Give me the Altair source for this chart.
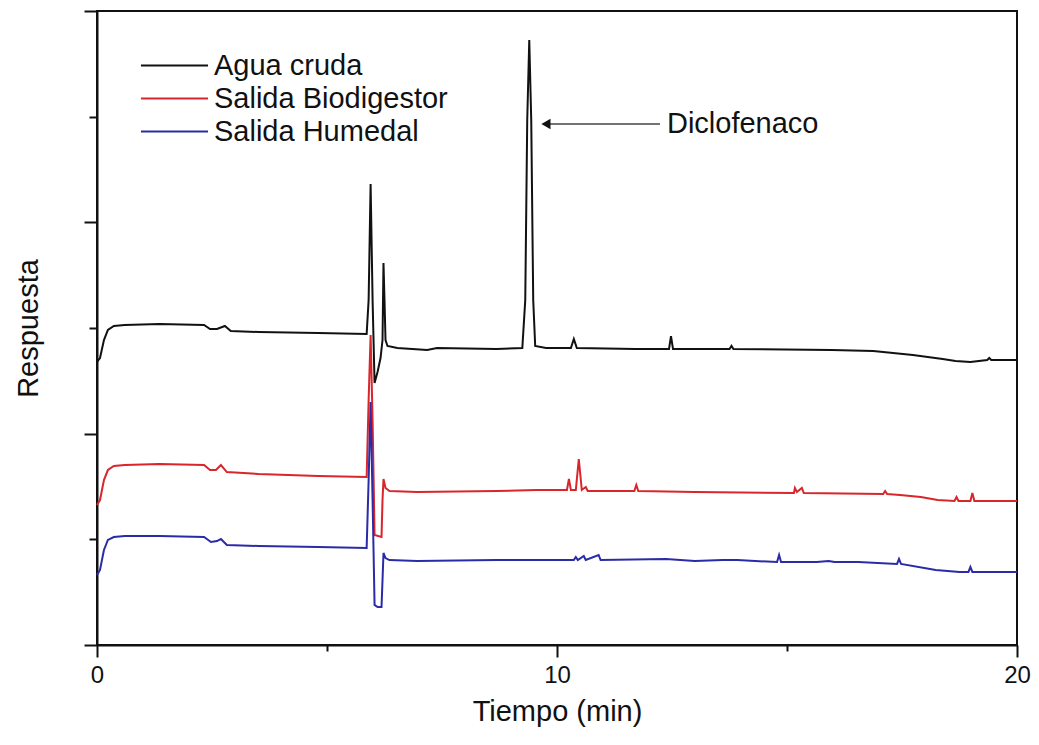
import altair as alt
import pandas as pd

series_names = ["Agua cruda", "Salida Biodigestor", "Salida Humedal"]
series_colors = ["#111111", "#d8262b", "#2b2ba8"]

t_agua = [0, 0.065, 0.151, 0.237, 0.366, 0.603, 1.358, 2.328, 2.457, 2.608, 2.780, 2.909, 3.513, 4.806,
          5.862, 5.905, 5.948, 5.991, 6.034, 6.099, 6.164, 6.207, 6.228, 6.250, 6.272, 6.315, 6.530,
          7.177, 7.392, 8.685, 9.246, 9.310, 9.353, 9.397, 9.440, 9.483, 9.526, 9.763, 10.302, 10.366,
          10.431, 11.703, 12.435, 12.478, 12.522, 13.750, 13.793, 13.836, 15.970, 16.875, 17.737,
          18.384, 18.664, 18.987, 19.353, 19.397, 19.440, 20.0]
y_agua = [26.78, 27.16, 28.86, 29.81, 30.19, 30.28, 30.38, 30.28, 29.90, 29.90, 30.19, 29.72, 29.62, 29.53,
          29.43, 32.65, 43.63, 32.65, 24.79, 25.84, 27.16, 28.86, 36.15, 32.65, 28.86, 28.30, 28.11,
          27.92, 28.11, 28.01, 28.11, 32.65, 49.68, 57.25, 49.68, 32.65, 28.30, 28.11, 28.11, 28.96,
          28.11, 28.01, 28.01, 29.24, 28.01, 28.01, 28.30, 28.01, 27.92, 27.82, 27.44,
          27.06, 26.88, 26.78, 26.97, 27.16, 26.97, 26.97]

t_bio = [0, 0.065, 0.151, 0.237, 0.366, 0.603, 1.358, 2.328, 2.457, 2.586, 2.694, 2.823, 3.513, 4.806,
         5.862, 5.905, 5.948, 5.991, 6.034, 6.185, 6.207, 6.228, 6.272, 6.358, 6.961, 8.685, 9.547,
         10.216, 10.259, 10.302, 10.409, 10.474, 10.539, 10.625, 10.668, 11.681, 11.724, 11.767,
         12.996, 15.151, 15.172, 15.216, 15.323, 15.366, 17.09, 17.134, 17.177, 17.457, 17.909,
         18.276, 18.642, 18.685, 18.728, 18.987, 19.03, 19.073, 20.0]
y_bio = [13.25, 13.72, 15.61, 16.56, 16.94, 17.03, 17.13, 17.03, 16.56, 16.56, 17.03, 16.37, 16.18, 15.99,
         15.90, 23.19, 29.34, 21.29, 10.41, 10.22, 13.72, 15.71, 14.86, 14.57, 14.48, 14.57, 14.67,
         14.67, 15.71, 14.67, 14.67, 17.60, 14.67, 14.95, 14.57, 14.57, 15.14, 14.57,
         14.48, 14.38, 14.86, 14.48, 14.86, 14.38, 14.29, 14.57, 14.29, 14.19, 14.01,
         13.72, 13.63, 14.01, 13.63, 13.63, 14.38, 13.63, 13.63]

t_hum = [0, 0.065, 0.151, 0.237, 0.366, 0.603, 1.358, 2.328, 2.478, 2.608, 2.694, 2.823, 3.513, 4.806,
         5.862, 5.905, 5.948, 5.991, 6.034, 6.099, 6.185, 6.207, 6.228, 6.272, 6.358, 6.961, 8.685,
         9.763, 10.366, 10.409, 10.453, 10.582, 10.625, 10.905, 10.948, 12.371, 12.996, 13.599,
         13.922, 14.784, 14.828, 14.871, 15.647, 15.905, 16.034, 16.552, 17.392, 17.435, 17.478,
         18.233, 18.75, 18.944, 18.987, 19.03, 20.0]
y_hum = [6.62, 7.10, 8.99, 9.94, 10.22, 10.32, 10.32, 10.22, 9.75, 9.84, 10.03, 9.46, 9.37, 9.27,
         9.18, 15.61, 23.00, 13.72, 3.79, 3.60, 3.60, 6.15, 8.71, 8.23, 8.04, 7.95, 8.04,
         8.04, 8.04, 8.33, 8.04, 8.42, 8.04, 8.52, 8.04, 8.14, 7.95, 8.04,
         8.04, 7.85, 8.52, 7.85, 7.85, 7.95, 7.85, 7.85, 7.67, 8.14, 7.67,
         7.10, 6.91, 6.91, 7.38, 6.91, 6.91]

x_ticks = [0, 5, 10, 15, 20]
y_ticks = [0, 10, 20, 30, 40, 50, 60]

annot_label = ["Diclofenaco"]
annot_text_t = [12.39]
annot_y = [49.3]
arrow_t_start = [9.72]
arrow_t_end = [12.24]
arrow_head_t = [9.76]

rows = []
for name, ts, ys in zip(series_names, [t_agua, t_bio, t_hum], [y_agua, y_bio, y_hum]):
    for i, (t, y) in enumerate(zip(ts, ys)):
        rows.append({"serie": name, "t": t, "y": y, "i": i})
df = pd.DataFrame(rows)

FONT = "Liberation Sans"

x_scale = alt.Scale(domain=[0, 20], nice=False, zero=False)
y_scale = alt.Scale(domain=[0, 60], nice=False)

lines = alt.Chart(df).mark_line(strokeWidth=2).encode(
    x=alt.X("t:Q", scale=x_scale, title="Tiempo (min)",
            axis=alt.Axis(values=x_ticks, grid=False, labelFlush=False,
                          labelExpr="datum.value % 10 === 0 ? datum.label : ''",
                          tickSize={"condition": {"test": "datum.value % 10 === 0", "value": 12}, "value": 6},
                          labelPadding=6, titlePadding=10, labelFontSize=24, titleFontSize=29)),
    y=alt.Y("y:Q", scale=y_scale, title="Respuesta",
            axis=alt.Axis(values=y_ticks, grid=False, labels=False,
                          tickSize={"condition": {"test": "datum.value % 20 === 0", "value": 13}, "value": 8},
                          titlePadding=40, titleFontSize=29)),
    color=alt.Color("serie:N", scale=alt.Scale(domain=series_names, range=series_colors),
                    legend=alt.Legend(title=None, orient="none", legendX=63, legendY=40,
                                      symbolType="M-3,0H3", symbolSize=500, symbolStrokeWidth=2,
                                      labelFontSize=29, labelFont=FONT, labelOffset=25, labelLimit=500,
                                      rowPadding=3, padding=0, labelColor="#111111")),
    order=alt.Order("i:Q"),
    detail="serie:N",
)

ann_df = pd.DataFrame({"label": annot_label, "tt": annot_text_t, "ay": annot_y,
                       "a0": arrow_t_start, "a1": arrow_t_end, "ah": arrow_head_t})

arrow_line = alt.Chart(ann_df).mark_rule(color="#444444", strokeWidth=1.5).encode(
    x=alt.X("a0:Q", scale=x_scale), x2="a1:Q", y=alt.Y("ay:Q", scale=y_scale))
arrow_head = alt.Chart(ann_df).mark_point(shape="triangle-left", filled=True, color="#111111",
                                          size=110, opacity=1).encode(
    x=alt.X("ah:Q", scale=x_scale), y=alt.Y("ay:Q", scale=y_scale))
arrow_text = alt.Chart(ann_df).mark_text(align="left", baseline="middle", fontSize=29, font=FONT,
                                         color="#111111").encode(
    x=alt.X("tt:Q", scale=x_scale), y=alt.Y("ay:Q", scale=y_scale), text="label:N")

chart = alt.layer(lines, arrow_line, arrow_head, arrow_text).properties(
    width=920, height=634,
    autosize=alt.AutoSizeParams(type="none"),
    padding={"left": 89, "top": 3, "right": 14, "bottom": 90},
).configure_view(stroke="#111111", strokeWidth=2).configure_axis(
    domainColor="#111111", domainWidth=2, tickColor="#111111", tickWidth=2,
    labelFont=FONT, titleFont=FONT, labelColor="#111111", titleColor="#111111",
    titleFontWeight="normal",
)

chart.save("out.html", embed_options={"renderer": "svg", "actions": False})
